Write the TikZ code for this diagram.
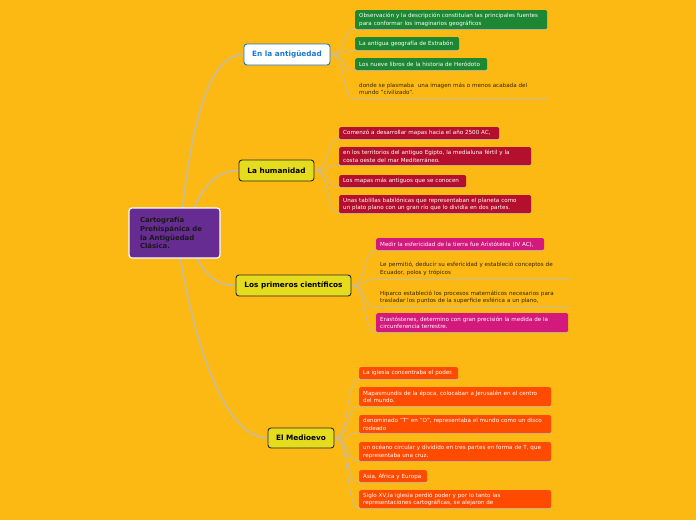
\documentclass[tikz,border=0pt]{standalone}
\usepackage{fontspec}
\setmainfont{DejaVu Sans}
\usetikzlibrary{backgrounds}
\definecolor{bg}{RGB}{253,185,19}
\definecolor{purp}{RGB}{103,44,145}
\definecolor{grn}{RGB}{30,135,52}
\definecolor{crim}{RGB}{180,15,45}
\definecolor{mag}{RGB}{212,25,125}
\definecolor{ored}{RGB}{255,75,0}
\definecolor{topicy}{RGB}{230,220,30}
\definecolor{blu}{RGB}{25,120,210}
\definecolor{conn}{RGB}{200,188,160}
\definecolor{dtext}{RGB}{50,35,10}
\tikzset{
  leaf/.style={anchor=north west, rounded corners=1.5pt, inner xsep=4pt, inner ysep=0pt,
    align=left, text=white, font=\fontsize{5.6}{7.6}\selectfont},
  plain/.style={anchor=north west, inner xsep=4pt, inner ysep=0pt,
    align=left, text=dtext, font=\fontsize{5.6}{7.6}\selectfont},
  topic/.style={rounded corners=3pt, fill=topicy, draw=black!85, line width=0.9pt,
    font=\bfseries\fontsize{7.3}{8.5}\selectfont, text=black},
  mainconn/.style={draw=conn, line width=1.6pt},
  subconn/.style={draw=conn, line width=0.8pt},
}
\begin{document}
\begin{tikzpicture}[x=1pt,y=-1pt]
\useasboundingbox (0,0) rectangle (696,520);
% central
\node[fill=purp, draw=white, line width=1.2pt, rounded corners=3pt, inner xsep=11pt, minimum height=50pt,
  text width=69pt, align=left, font=\bfseries\fontsize{6.9}{8.7}\selectfont, text=black!90] (cen) at (174.5,233)
  {Cartografía\\Prehispánica de\\la Antigüedad\\Clásica.};
% topics
\node[topic, fill=white, draw=blu, text=blu, minimum width=86pt, minimum height=21pt] (ant) at (287,54.5) {En la antigüedad};
\node[topic, minimum width=75pt, minimum height=21pt] (hum) at (276.5,170.5) {La humanidad};
\node[topic, minimum width=115pt, minimum height=21pt] (cie) at (293.5,285.5) {Los primeros científicos};
\node[topic, minimum width=66pt, minimum height=20pt] (med) at (301,438) {El Medioevo};
% antiguedad leaves
\node[leaf, fill=grn, text width=184pt, minimum height=19pt] (a1) at (355,10) {Observación y la descripción constituían las principales fuentes\\para conformar los imaginarios geográficos};
\node[leaf, fill=grn, text width=96pt, minimum height=13pt] (a2) at (355,37) {La antigua geografía de Estrabón};
\node[leaf, fill=grn, text width=124pt, minimum height=12pt] (a3) at (355,58) {Los nueve libros de la historia de Heródoto};
\node[plain, text width=185pt, minimum height=19pt] (a4) at (355,79) {donde se plasmaba \ una imagen más o menos acabada del\\mundo "civilizado".};
% humanidad leaves
\node[leaf, fill=crim, text width=152pt, minimum height=12pt] (h1) at (339,127) {Comenzó a desarrollar mapas hacia el año 2500 AC,};
\node[leaf, fill=crim, text width=184pt, minimum height=18pt] (h2) at (339,147) {en los territorios del antiguo Egipto, la medialuna fértil y la\\costa oeste del mar Mediterráneo.};
\node[leaf, fill=crim, text width=119pt, minimum height=12pt] (h3) at (339,175) {Los mapas más antiguos que se conocen};
\node[leaf, fill=crim, text width=184pt, minimum height=18pt] (h4) at (339,195) {Unas tablillas babilónicas que representaban el planeta como\\un plato plano con un gran río que lo dividía en dos partes.};
% cientificos leaves
\node[leaf, fill=mag, text width=160pt, minimum height=12pt] (c1) at (376,238) {Medir la esfericidad de la tierra fue Aristóteles (IV AC),};
\node[plain, text width=186pt, minimum height=21pt] (c2) at (376,258) {Le permitió, deducir su esfericidad y estableció conceptos de\\Ecuador, polos y trópicos};
\node[plain, text width=186pt, minimum height=20pt] (c3) at (376,287) {Hiparco estableció los procesos matemáticos necesarios para\\trasladar los puntos de la superficie esférica a un plano,};
\node[leaf, fill=mag, text width=184pt, minimum height=19pt] (c4) at (376,313) {Erastóstenes, determino con gran precisión la medida de la\\circunferencia terrestre.};
% medioevo leaves
\node[leaf, fill=ored, text width=91pt, minimum height=12pt] (m1) at (359,367) {La iglesia concentraba el poder.};
\node[leaf, fill=ored, text width=184pt, minimum height=19pt] (m2) at (359,387) {Mapasmundis de la época, colocaban a Jerusalén en el centro\\del mundo.};
\node[leaf, fill=ored, text width=184pt, minimum height=18pt] (m3) at (359,415) {denominado "T" en "O", representaba el mundo como un disco\\rodeado};
\node[leaf, fill=ored, text width=184pt, minimum height=19pt] (m4) at (359,442) {un océano circular y dividido en tres partes en forma de T, que\\representaba una cruz.};
\node[leaf, fill=ored, text width=60pt, minimum height=12pt] (m5) at (359,470) {Asia, África y Europa};
\node[leaf, fill=ored, text width=184pt, minimum height=18pt] (m6) at (359,490) {Siglo XV,la iglesia perdió poder y por lo tanto las\\representaciones cartográficas, se alejaron de};
\begin{pgfonlayer}{background}
\fill[bg] (0,0) rectangle (696,520);
% main connectors
\coordinate (s1) at (180,230);
\coordinate (s2) at (188,225);
\coordinate (s3) at (190,245);
\coordinate (s4) at (178,245);
\path[mainconn] (s1) .. controls (192,110) and (212,54.5) .. (ant.west);
\path[mainconn] (s2) .. controls (200,185) and (218,170.5) .. (hum.west);
\path[mainconn] (s3) .. controls (205,278) and (218,285.5) .. (cie.west);
\path[mainconn] (s4) .. controls (200,380) and (235,438) .. (med.west);
% sub connectors
\foreach \p/\c in {ant/a1,ant/a2,ant/a3,ant/a4,hum/h1,hum/h2,hum/h3,hum/h4,cie/c1,cie/c2,cie/c3,cie/c4,med/m1,med/m2,med/m3,med/m4,med/m5,med/m6}{
  \path[subconn] (\p.east) .. controls +(16,0) and +(-14,0) .. (\c.south west) -- (\c.south east);
}
\end{pgfonlayer}
\end{tikzpicture}
\end{document}
